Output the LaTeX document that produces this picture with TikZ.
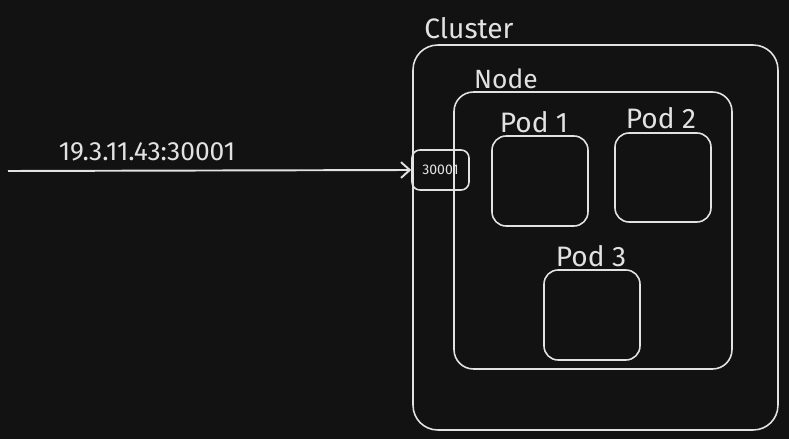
\documentclass[tikz,border=0pt]{standalone}
\usepackage{fontspec}
\setmainfont{Fira Sans}
\usetikzlibrary{positioning,arrows.meta}
\definecolor{fondo}{HTML}{121212}
\definecolor{trazo}{HTML}{E2E2E2}

\begin{document}
\begin{tikzpicture}[
            % un pixel de la referencia
            x=0.02cm, y=-0.02cm,
            % cajas redondeadas
            caja/.style={rectangle, draw=trazo, line width=0.9pt, rounded corners=#1, inner sep=0pt},
            caja/.default=8pt,
            etiqueta/.style={text=trazo, font=\fontsize{16}{18}\selectfont, inner sep=0pt},
            line/.style={draw=trazo, line width=1.1pt, -{Straight Barb[length=5pt,width=9pt]}}
        ]
            \fill[fondo] (0,0) rectangle (789,439);

            \node [caja=14pt, minimum width=7.3cm, minimum height=7.7cm] (cluster) at (595.5,237.5) {};
            \node [caja=11pt, minimum width=5.56cm, minimum height=5.54cm] (nodo) at (593,230.5) {};
            \node [caja, minimum width=1.92cm, minimum height=1.8cm] (pod1) at (540,181) {};
            \node [caja, minimum width=1.92cm, minimum height=1.78cm] (pod2) at (663,177.5) {};
            \node [caja, minimum width=1.92cm, minimum height=1.8cm] (pod3) at (592,315) {};
            \node [caja=4.5pt, minimum width=1.14cm, minimum height=0.8cm, text=trazo, font=\fontsize{8}{9}\selectfont] (puerto) at (440.5,170) {30001};

            \node [etiqueta] (tcluster) at (469,28) {Cluster};
            \node [etiqueta, font=\fontsize{15}{17}\selectfont] (tnodo) at (506,79) {Node};
            \node [etiqueta] (tpod1) at (534,122) {Pod 1};
            \node [etiqueta] (tpod2) at (661,118) {Pod 2};
            \node [etiqueta] (tpod3) at (591,256) {Pod 3};
            \node [etiqueta, font=\fontsize{15}{17}\selectfont] (tip) at (147,152) {19.3.11.43:30001};

            \coordinate (origen) at (8,171);
            \path [line] (origen) -- (puerto.west);
        \end{tikzpicture}
\end{document}
